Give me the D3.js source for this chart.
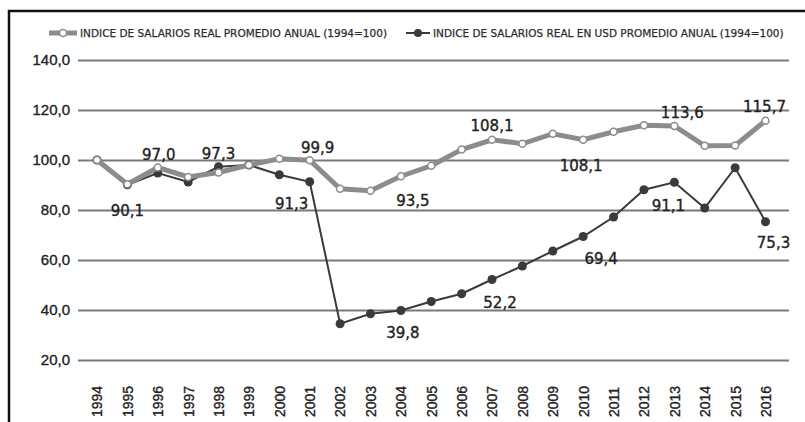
<!DOCTYPE html>
<html>
<head>
<meta charset="utf-8">
<script src="https://cdn.jsdelivr.net/npm/d3@7"></script>
<style>
  body { margin: 0; background: #fff; }
  svg { display: block; font-family: "DejaVu Sans", sans-serif; }
  .heavy { stroke: #222; stroke-width: 0.35px; }
</style>
</head>
<body>
<svg id="chart" width="805" height="422"></svg>
<script>
const years = ["1994","1995","1996","1997","1998","1999","2000","2001","2002","2003","2004","2005",
  "2006","2007","2008","2009","2010","2011","2012","2013","2014","2015","2016"]
const realIndex = [100, 90.3, 97.0, 93.2, 95.0, 98.0, 100.5, 99.9, 88.5, 87.7, 93.5, 97.7,
  104.2, 108.1, 106.5, 110.5, 108.1, 111.3, 113.9, 113.6, 105.7, 105.8, 115.7]
const usdIndex = [100, 90.1, 94.8, 91.2, 97.3, 98.0, 94.1, 91.3, 34.5, 38.5, 39.8, 43.4,
  46.5, 52.2, 57.6, 63.6, 69.4, 77.2, 88.1, 91.1, 80.8, 96.9, 75.3]
const yTicks = [20, 40, 60, 80, 100, 120, 140]
const seriesNames = ["INDICE DE SALARIOS REAL PROMEDIO ANUAL (1994=100)",
  "INDICE DE SALARIOS REAL EN USD PROMEDIO ANUAL (1994=100)"]
// value labels: year, series (0 = real, 1 = usd), text
const labelYears  = ["1995","1996","1998","2001","2001","2004","2004","2007","2007","2010","2010","2013","2013","2016","2016"]
const labelSeries = [1, 0, 1, 0, 1, 0, 1, 0, 1, 0, 1, 0, 1, 0, 1]
const labelTexts  = ["90,1","97,0","97,3","99,9","91,3","93,5","39,8","108,1","52,2","108,1","69,4","113,6","91,1","115,7","75,3"]

const svg = d3.select("#chart")
const fmt = v => d3.format(".1f")(v).replace(".", ",")

const x = d3.scalePoint().domain(years).range([97, 765.5])
const y = d3.scaleLinear().domain([20, 140]).range([360, 60])

// frame
svg.append("path")
    .attr("d", "M9,422 V11 H805")
    .attr("fill", "none")
    .attr("stroke", "#111")
    .attr("stroke-width", 2.5)

// y grid + labels
const yAxis = svg.append("g")
    .attr("transform", "translate(78,0)")
    .call(d3.axisLeft(y).tickValues(yTicks).tickSize(-711).tickPadding(8).tickFormat(fmt))
yAxis.select(".domain").remove()
yAxis.selectAll(".tick line").attr("stroke", "#7a7a7a").attr("stroke-width", 2)
yAxis.selectAll(".tick text")
    .attr("class", "heavy")
    .attr("fill", "#222")
    .style("font-size", "15px")

// x labels (rotated)
const xAxis = svg.append("g")
    .attr("transform", "translate(0,417)")
    .call(d3.axisBottom(x).tickSize(0))
xAxis.select(".domain").remove()
xAxis.selectAll(".tick text")
    .attr("class", "heavy")
    .attr("transform", "rotate(-90)")
    .attr("x", 0)
    .attr("y", 0)
    .attr("dy", "0.35em")
    .attr("text-anchor", "start")
    .attr("fill", "#222")
    .style("font-size", "14px")

const line = d3.line().x((d, i) => x(years[i])).y(d => y(d))

// USD series (dark)
svg.append("path")
    .attr("d", line(usdIndex))
    .attr("fill", "none")
    .attr("stroke", "#3a3a3a")
    .attr("stroke-width", 2)
svg.selectAll(".usd-dot")
    .data(usdIndex)
    .join("circle")
        .attr("class", "usd-dot")
        .attr("cx", (d, i) => x(years[i]))
        .attr("cy", d => y(d))
        .attr("r", 4.5)
        .attr("fill", "#3a3a3a")

// real series (gray, thick)
svg.append("path")
    .attr("d", line(realIndex))
    .attr("fill", "none")
    .attr("stroke", "#8c8c8c")
    .attr("stroke-width", 5)
svg.selectAll(".real-dot")
    .data(realIndex)
    .join("circle")
        .attr("class", "real-dot")
        .attr("cx", (d, i) => x(years[i]))
        .attr("cy", d => y(d))
        .attr("r", 3.5)
        .attr("fill", "#fff")
        .attr("stroke", "#8c8c8c")
        .attr("stroke-width", 1.5)

// value labels, nudged by hand like the original
const nudge = {
    "1-1995": [0, 26], "0-1996": [1, -13], "1-1998": [0, -13], "0-2001": [8, -13],
    "1-2001": [-18, 22], "0-2004": [12, 24], "1-2004": [2, 22], "0-2007": [0, -14],
    "1-2007": [8, 23], "0-2010": [-2, 26], "1-2010": [18, 22], "0-2013": [8, -13],
    "1-2013": [-6, 23], "0-2016": [-1, -14], "1-2016": [8, 21]
}
const seriesVals = [realIndex, usdIndex]
svg.selectAll(".val-label")
    .data(labelTexts)
    .join("text")
        .attr("class", "val-label heavy")
        .attr("x", (d, i) => x(labelYears[i]) + nudge[labelSeries[i] + "-" + labelYears[i]][0])
        .attr("y", (d, i) => y(seriesVals[labelSeries[i]][years.indexOf(labelYears[i])]) + nudge[labelSeries[i] + "-" + labelYears[i]][1])
        .attr("dy", "0.35em")
        .attr("text-anchor", "middle")
        .attr("fill", "#222")
        .style("font-size", "15px")
        .text(d => d)

// legend
const legend = svg.append("g").attr("transform", "translate(49,33)")
const leg0 = legend.append("g")
leg0.append("line").attr("x1", 0).attr("x2", 28).attr("stroke", "#8c8c8c").attr("stroke-width", 5)
leg0.append("circle").attr("cx", 14).attr("r", 3.5).attr("fill", "#fff").attr("stroke", "#8c8c8c").attr("stroke-width", 1.5)
leg0.append("text").attr("x", 31).attr("dy", "0.35em").attr("fill", "#333")
    .attr("class", "heavy").style("stroke-width", "0.25px")
    .style("font-size", "10.5px").text(seriesNames[0])
const leg1 = legend.append("g").attr("transform", "translate(357,0)")
leg1.append("line").attr("x1", 0).attr("x2", 24).attr("stroke", "#3a3a3a").attr("stroke-width", 2)
leg1.append("circle").attr("cx", 12).attr("r", 4).attr("fill", "#3a3a3a")
leg1.append("text").attr("x", 27).attr("dy", "0.35em").attr("fill", "#333")
    .attr("class", "heavy").style("stroke-width", "0.25px")
    .style("font-size", "10.5px").text(seriesNames[1])
</script>
</body>
</html>
